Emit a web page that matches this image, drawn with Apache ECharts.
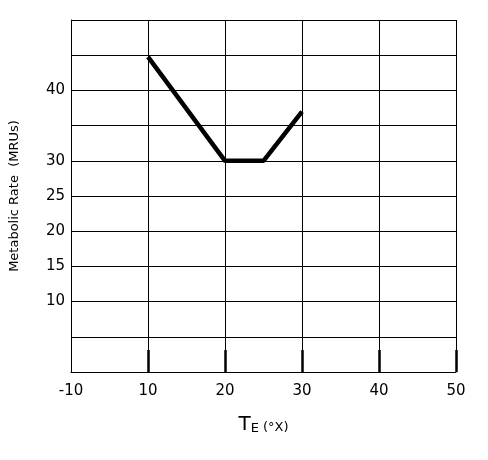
<!DOCTYPE html><html><head><meta charset="utf-8"><script src="https://cdn.jsdelivr.net/npm/echarts@6/dist/echarts.min.js"></script></head><body style="margin:0"><div id="c" style="width:488px;height:460px"></div><script>
var xTickPos=[0,2,4,6,8,10];
var xTickLabels=['-10','10','20','30','40','50'];
var yTickPos=[2,3,4,5,6,8];
var yTickLabels=['10','15','20','25','30','40'];
var lineX=[2,4,5,6];
var lineY=[8.95,6,6,7.4];
var xMap={},yMap={};
xTickPos.forEach(function(p,i){xMap[p]=xTickLabels[i];});
yTickPos.forEach(function(p,i){yMap[p]=yTickLabels[i];});
var ch=echarts.init(document.getElementById('c'));
ch.setOption({animation:false,
grid:{left:68,right:32,top:20,bottom:88},
xAxis:{type:'value',min:0,max:10,interval:1,
 axisLine:{show:true,lineStyle:{color:'#000',width:1}},
 splitLine:{show:true,lineStyle:{color:'#000',width:1}},
 axisTick:{show:true,inside:true,length:22,lineStyle:{color:'#000',width:2.5},customValues:[2,4,6,8,10]},
 axisLabel:{formatter:function(v){return xMap[v]||'';},color:'#000',fontSize:15,margin:12,fontFamily:'DejaVu Sans'},
 name:'{t|T}{s|E}{u| (°X)}',nameLocation:'middle',nameGap:42,
 nameTextStyle:{rich:{t:{fontSize:20,color:'#000',fontFamily:'DejaVu Sans'},s:{fontSize:13,color:'#000',verticalAlign:'bottom',padding:[8,0,0,0],fontFamily:'DejaVu Sans'},u:{fontSize:13,color:'#000',fontFamily:'DejaVu Sans',padding:[6,0,0,0]}}}},
yAxis:{type:'value',min:0,max:10,interval:1,
 axisLine:{show:true,lineStyle:{color:'#000',width:1}},
 splitLine:{show:true,lineStyle:{color:'#000',width:1}},
 axisTick:{show:false},
 axisLabel:{formatter:function(v){return yMap[v]||'';},color:'#000',fontSize:15,margin:6,fontFamily:'DejaVu Sans'},
 name:'Metabolic Rate  (MRUs)',nameLocation:'middle',nameGap:50,
 nameTextStyle:{fontSize:13,color:'#000',fontFamily:'DejaVu Sans'}},
series:[{type:'line',data:lineX.map(function(x,i){return [x,lineY[i]];}),showSymbol:false,lineStyle:{color:'#000',width:4.5}}]
});
</script></body></html>
